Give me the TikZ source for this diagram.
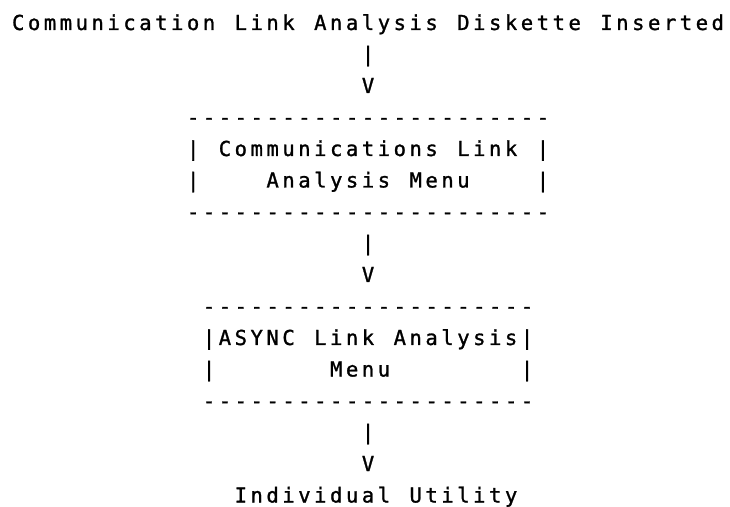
\documentclass[tikz,border=0pt]{standalone}
\usepackage{fontspec}
\newfontfamily\asciifont[FakeBold=1.2]{DejaVu Sans Mono}
\newcommand{\printerfont}{\asciifont\fontsize{20.6}{24}\selectfont}
% one fixed cell of 15.9pt for every printed character
\ExplSyntaxOn
\NewDocumentCommand{\cells}{m}{\str_map_inline:nn {#1} {\makebox[15.9pt][c]{##1}}}
\ExplSyntaxOff

\begin{document}
\begin{tikzpicture}[x=1pt, y=1pt, line width=0.6pt]
    \tikzset{txt/.style={font=\printerfont, inner sep=0pt, anchor=base west}}
    \useasboundingbox (0,0) rectangle (730,506);
    % heading and first link
    \node[txt] (title) at (10, 476)      {\cells{Communication Link Analysis Diskette Inserted}};
    \node[txt] (barA)  at (359.8, 444.5) {\cells{|}};
    \node[txt] (tipA)  at (359.8, 413)   {\cells{V}};
    % first menu box
    \node[txt] (topA)  at (184.9, 381.5) {\cells{-----------------------}};
    \node[txt] (lA1)   at (184.9, 350)   {\cells{|}};
    \node[txt] (linkA) at (216.7, 350)   {\cells{Communications Link}};
    \node[txt] (rA1)   at (534.7, 350)   {\cells{|}};
    \node[txt] (lA2)   at (184.9, 318.5) {\cells{|}};
    \node[txt] (menuA) at (264.4, 318.5) {\cells{Analysis Menu}};
    \node[txt] (rA2)   at (534.7, 318.5) {\cells{|}};
    \node[txt] (botA)  at (184.9, 287)   {\cells{-----------------------}};
    \node[txt] (barB)  at (359.8, 255.5) {\cells{|}};
    \node[txt] (tipB)  at (359.8, 224)   {\cells{V}};
    % second menu box
    \node[txt] (topB)  at (200.8, 192.5) {\cells{---------------------}};
    \node[txt] (lB1)   at (200.8, 161)   {\cells{|}};
    \node[txt] (linkB) at (216.7, 161)   {\cells{ASYNC Link Analysis}};
    \node[txt] (rB1)   at (518.8, 161)   {\cells{|}};
    \node[txt] (lB2)   at (200.8, 129.5) {\cells{|}};
    \node[txt] (menuB) at (328, 129.5)   {\cells{Menu}};
    \node[txt] (rB2)   at (518.8, 129.5) {\cells{|}};
    \node[txt] (botB)  at (200.8, 98)    {\cells{---------------------}};
    \node[txt] (barC)  at (359.8, 66.5)  {\cells{|}};
    \node[txt] (tipC)  at (359.8, 35)    {\cells{V}};
    \node[txt] (util)  at (232.6, 3.5)   {\cells{Individual Utility}};
\end{tikzpicture}
\end{document}
